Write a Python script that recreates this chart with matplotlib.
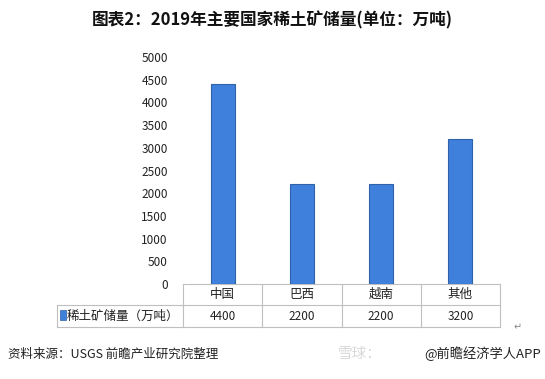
import matplotlib
matplotlib.use("Agg")
import matplotlib.pyplot as plt
import matplotlib.transforms as mtransforms
from matplotlib.lines import Line2D
from matplotlib.patches import Rectangle

plt.rcParams['font.family'] = ['Noto Sans CJK SC', 'DejaVu Sans']

categories = ['中国', '巴西', '越南', '其他']
values = [4400, 2200, 2200, 3200]
series_name = '稀土矿储量（万吨）'
title = '图表2：2019年主要国家稀土矿储量(单位：万吨)'
source = '资料来源：USGS 前瞻产业研究院整理'
yticks = [0, 500, 1000, 1500, 2000, 2500, 3000, 3500, 4000, 4500, 5000]

W, H = 545, 379
fig = plt.figure(figsize=(W / 100, H / 100), dpi=100)
fig.patch.set_facecolor('white')

def fx(px):
    return px / W

def fy(py):
    return 1 - py / H

ax = fig.add_axes([fx(183), fy(284), fx(500) - fx(183), fy(57) - fy(284)])
x = list(range(len(categories)))
ax.bar(x, values, width=0.3, color='#3F80DC', edgecolor='#2F62A8', linewidth=0.8, zorder=3)
ax.set_xlim(-0.5, len(categories) - 0.5)
ax.set_ylim(0, 5000)
ax.set_yticks(yticks)
ax.set_yticklabels([str(t) for t in yticks], fontsize=8.5, color='#222222')
ax.tick_params(axis='y', length=0, pad=11)
ax.set_xticks([])
for s in ax.spines.values():
    s.set_visible(False)

grid_c = '#BFBFBF'
bt = mtransforms.blended_transform_factory(ax.transData, fig.transFigure)
row_top, row_mid, row_bot = fy(284), fy(305), fy(327)
bounds = [i - 0.5 for i in range(len(categories) + 1)]
for b in bounds:
    ax.add_line(Line2D([b, b], [row_top, row_bot], transform=bt, color=grid_c, lw=0.8, clip_on=False))
ax.add_line(Line2D([bounds[0], bounds[-1]], [row_top, row_top], transform=bt, color=grid_c, lw=0.8, clip_on=False))
fig.add_artist(Line2D([fx(57), fx(500)], [row_mid, row_mid], color=grid_c, lw=0.8))
fig.add_artist(Line2D([fx(57), fx(500)], [row_bot, row_bot], color=grid_c, lw=0.8))
fig.add_artist(Line2D([fx(57), fx(57)], [row_mid, row_bot], color=grid_c, lw=0.8))

for i, (c, v) in enumerate(zip(categories, values)):
    ax.text(i, (row_top + row_mid) / 2, c, transform=bt, ha='center', va='center',
            fontsize=9, color='#222222')
    ax.text(i, (row_mid + row_bot) / 2, str(v), transform=bt, ha='center', va='center',
            fontsize=8.5, color='#222222')

fig.add_artist(Rectangle((fx(60), fy(320)), fx(6), fy(310) - fy(320),
                         facecolor='#3F80DC', edgecolor='#2F62A8', lw=0.5))
fig.text(fx(67), (row_mid + row_bot) / 2, series_name, ha='left', va='center',
         fontsize=9, color='#222222')

fig.text(0.5, fy(20), title, ha='center', va='center', fontsize=12,
         fontweight='bold', color='#111111')
fig.text(fx(8), fy(354), source, ha='left', va='center', fontsize=9, color='#222222')
fig.text(fx(338), fy(354), '雪球：', ha='left', va='center', fontsize=10.5,
         color='#D8D8D8')
fig.text(fx(541), fy(354), '@前瞻经济学人APP', ha='right', va='center', fontsize=9.5,
         color='#222222')
fig.text(fx(518), fy(327), '↵', ha='center', va='center', fontsize=7,
         color='#888888', family='DejaVu Sans')

fig.savefig('out.png', dpi=100, facecolor='white')
